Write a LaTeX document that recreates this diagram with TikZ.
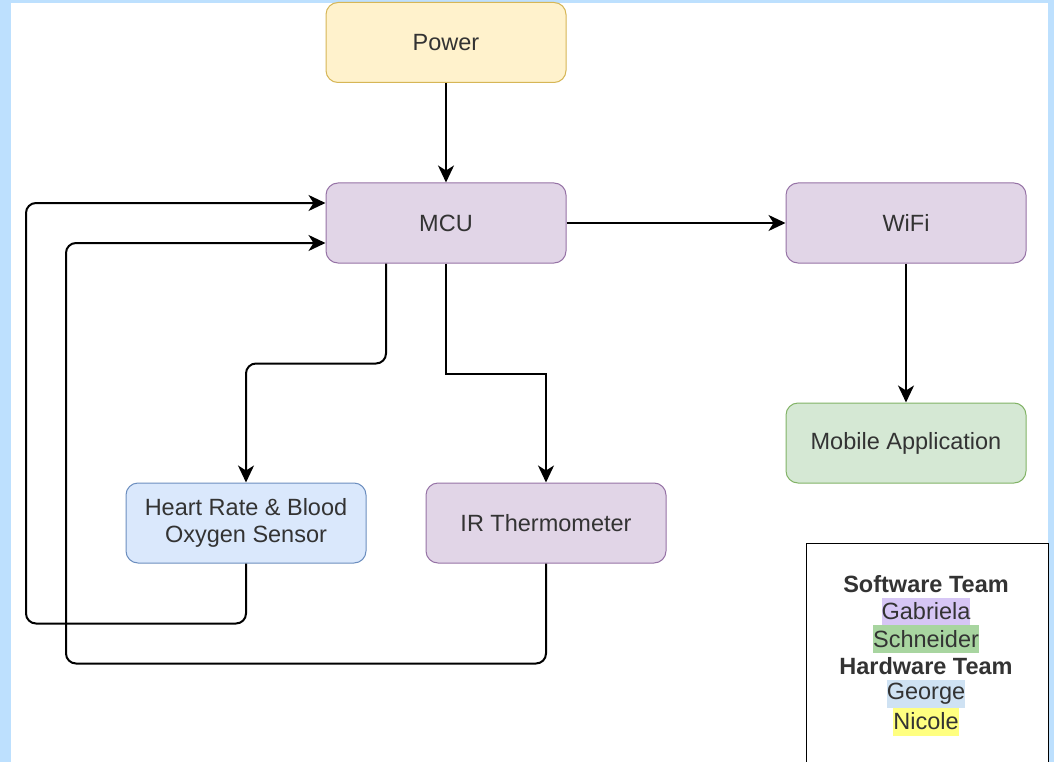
\documentclass[tikz,border=0pt]{standalone}
\usepackage{fontspec}
\setmainfont{Liberation Sans}
\usepackage{xcolor}
\usepackage{tikz}
\usetikzlibrary{arrows.meta}

\definecolor{pagebg}{RGB}{189,224,254}
\definecolor{pwrfill}{HTML}{FFF2CC}
\definecolor{pwrline}{HTML}{D6B656}
\definecolor{mcufill}{HTML}{E1D5E7}
\definecolor{mculine}{HTML}{9673A6}
\definecolor{senfill}{HTML}{DAE8FC}
\definecolor{senline}{HTML}{6C8EBF}
\definecolor{appfill}{HTML}{D5E8D4}
\definecolor{appline}{HTML}{82B366}
\definecolor{txt}{HTML}{333333}
\definecolor{hlpurple}{RGB}{214,198,245}
\definecolor{hlgreen}{RGB}{168,213,160}
\definecolor{hlblue}{RGB}{207,226,243}
\definecolor{hlyellow}{RGB}{255,255,128}

\tikzset{
    block/.style={rectangle, rounded corners=12pt, line width=1pt,
        minimum width=240pt, minimum height=80pt, align=center,
        text=txt, font=\fontsize{23.5}{27}\selectfont},
    mcu/.style={fill=mcufill, draw=mculine},
    sensor/.style={fill=senfill, draw=senline},
    app/.style={fill=appfill, draw=appline},
    pwr/.style={fill=pwrfill, draw=pwrline},
    link/.style={line width=2pt, -{Stealth[length=17pt, width=16pt, inset=5pt]}},
    legendline/.style={inner sep=0pt, minimum height=28pt, text=txt,
        font=\fontsize{23.5}{27}\selectfont},
}

\begin{document}
\begin{tikzpicture}[x=1pt, y=1pt]
        \useasboundingbox (0,0) rectangle (1054,-762);
        \fill[pagebg] (0,0) rectangle (1054,-762);
        \fill[white] (11,-3) rectangle (1048,-762);

        \node[block, pwr] (Power) at (446,-42.5) {Power};
        \node[block, mcu, below of=Power, node distance=180.5pt] (MCU) {MCU};
        \node[block, mcu, right of=MCU, node distance=460pt] (WiFi) {WiFi};
        \node[block, app, below of=WiFi, node distance=220pt] (App) {Mobile Application};
        \node[block, sensor, below of=MCU, node distance=300pt, xshift=-200pt] (Heart) {Heart Rate \& Blood\\Oxygen Sensor};
        \node[block, mcu, below of=MCU, node distance=300pt, xshift=100pt] (IR) {IR Thermometer};

        % legend box runs off the bottom edge
        \node[draw=black, line width=1pt, minimum width=242pt, minimum height=240pt] (Legend) at (927,-663) {};
        \node[legendline, font=\fontsize{23.5}{27}\selectfont\bfseries] (SW) at (926,-584) {Software Team};
        \node[legendline, fill=hlpurple, below of=SW, node distance=27.5pt] (Gab) {Gabriela};
        \node[legendline, fill=hlgreen, below of=Gab, node distance=27.5pt] (Sch) {Schneider};
        \node[legendline, font=\fontsize{23.5}{27}\selectfont\bfseries, below of=Sch, node distance=27.5pt] (HW) {Hardware Team};
        \node[legendline, fill=hlblue, below of=HW, node distance=27.5pt] (Geo) {George};
        \node[legendline, fill=hlyellow, below of=Geo, node distance=27.5pt] (Nic) {Nicole};

        \draw[link] (Power) -- (MCU);
        \draw[link] (MCU) -- (WiFi);
        \draw[link] (WiFi) -- (App);
        \draw[link, rounded corners=10pt] ([xshift=-60pt]MCU.south) -- ++(0,-100) -| (Heart.north);
        \draw[link] (MCU.south) -- ++(0,-110) -| (IR.north);
        \draw[link, rounded corners=10pt] (Heart.south) -- ++(0,-60) -- ++(-220,0) |- ([yshift=20pt]MCU.west);
        \draw[link, rounded corners=10pt] (IR.south) -- ++(0,-100) -- ++(-480,0) |- ([yshift=-20pt]MCU.west);
    \end{tikzpicture}
\end{document}
